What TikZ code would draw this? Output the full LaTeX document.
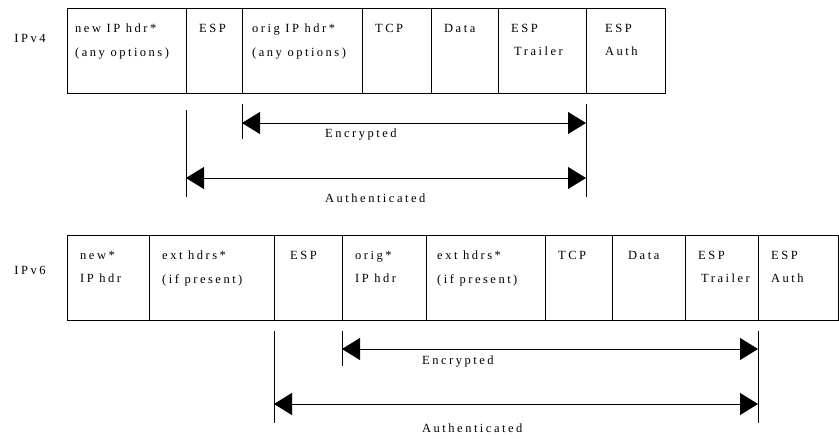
\documentclass[tikz,border=0pt]{standalone}
\usepackage{fontspec}
\setmainfont[LetterSpace=20]{Liberation Serif}
\usetikzlibrary{arrows.meta}
\usetikzlibrary{calc}

\tikzset{
  cell/.style={draw, line width=1.2pt, anchor=north west, inner sep=0pt, minimum height=85pt},
  celltext/.style={anchor=north west, align=left, inner sep=0pt, xshift=13pt, yshift=-16pt,
    font=\fontsize{12.5}{23.5}\selectfont},
  rowname/.style={font=\fontsize{12.5}{14}\selectfont, inner sep=0pt},
  spanlabel/.style={anchor=west, inner sep=0pt, font=\fontsize{12.5}{14}\selectfont},
  span/.style={{Triangle[length=18pt,width=22pt]}-{Triangle[length=18pt,width=22pt]}, line width=0.9pt},
  tick/.style={line width=0.9pt}
}

\begin{document}
\begin{tikzpicture}[x=1pt,y=-1pt]
	\useasboundingbox (0,0) rectangle (839,439);
    % IPv4
    \node[rowname] (v4) at (30,38) {IPv4};
    \node[cell, minimum width=119pt] (v4new) at (67,8) {};
    \node[cell, minimum width=56pt] (v4esp) at (186,8) {};
    \node[cell, minimum width=120pt] (v4orig) at (242,8) {};
    \node[cell, minimum width=69pt] (v4tcp) at (362,8) {};
    \node[cell, minimum width=67pt] (v4data) at (431,8) {};
    \node[cell, minimum width=88pt] (v4trl) at (498,8) {};
    \node[cell, minimum width=79pt] (v4auth) at (586,8) {};
    \node[celltext, xshift=-5pt] (v4newt) at (v4new.north west) {new IP hdr*\\(any options)};
    \node[celltext] (v4espt) at (v4esp.north west) {ESP};
    \node[celltext, xshift=-3pt] (v4origt) at (v4orig.north west) {orig IP hdr*\\(any options)};
    \node[celltext] (v4tcpt) at (v4tcp.north west) {TCP};
    \node[celltext] (v4datat) at (v4data.north west) {Data};
    \node[celltext] (v4trlt) at (v4trl.north west) {ESP\\\hspace{3pt}Trailer};
    \node[celltext, xshift=6pt] (v4autht) at (v4auth.north west) {ESP\\Auth};
    % IPv4 spans
    \coordinate (enc4) at (0,123);
    \coordinate (aut4) at (0,178);
    \draw[tick] (v4orig.south west |- 0,104) -- (v4orig.south west |- 0,139);
    \draw[tick] (v4esp.south west |- 0,110) -- (v4esp.south west |- 0,197);
    \draw[tick] (v4auth.south west |- 0,104) -- (v4auth.south west |- 0,197);
    \draw[span] (v4orig.south west |- enc4) -- (v4auth.south west |- enc4);
    \draw[span] (v4esp.south west |- aut4) -- (v4auth.south west |- aut4);
    \node[spanlabel] (v4enc) at (325,135) {Encrypted};
    \node[spanlabel] (v4aut) at (325,198) {Authenticated};
    % IPv6
    \node[rowname] (v6) at (30,270) {IPv6};
    \node[cell, minimum width=82pt] (v6new) at (67,235) {};
    \node[cell, minimum width=125pt] (v6ext) at (149,235) {};
    \node[cell, minimum width=68pt] (v6esp) at (274,235) {};
    \node[cell, minimum width=84pt] (v6orig) at (342,235) {};
    \node[cell, minimum width=119pt] (v6ext2) at (426,235) {};
    \node[cell, minimum width=67pt] (v6tcp) at (545,235) {};
    \node[cell, minimum width=73pt] (v6data) at (612,235) {};
    \node[cell, minimum width=73pt] (v6trl) at (685,235) {};
    \node[cell, minimum width=80pt] (v6auth) at (758,235) {};
    \node[celltext] (v6newt) at (v6new.north west) {new*\\IP hdr};
    \node[celltext] (v6extt) at (v6ext.north west) {ext hdrs*\\(if present)};
    \node[celltext, xshift=3pt] (v6espt) at (v6esp.north west) {ESP};
    \node[celltext] (v6origt) at (v6orig.north west) {orig*\\IP hdr};
    \node[celltext, xshift=-2pt] (v6ext2t) at (v6ext2.north west) {ext hdrs*\\(if present)};
    \node[celltext] (v6tcpt) at (v6tcp.north west) {TCP};
    \node[celltext, xshift=3pt] (v6datat) at (v6data.north west) {Data};
    \node[celltext] (v6trlt) at (v6trl.north west) {ESP\\\hspace{3pt}Trailer};
    \node[celltext] (v6autht) at (v6auth.north west) {ESP\\Auth};
    % IPv6 spans
    \coordinate (enc6) at (0,349);
    \coordinate (aut6) at (0,404);
    \draw[tick] (v6orig.south west |- 0,331) -- (v6orig.south west |- 0,366);
    \draw[tick] (v6esp.south west |- 0,331) -- (v6esp.south west |- 0,423);
    \draw[tick] (v6auth.south west |- 0,331) -- (v6auth.south west |- 0,423);
    \draw[span] (v6orig.south west |- enc6) -- (v6auth.south west |- enc6);
    \draw[span] (v6esp.south west |- aut6) -- (v6auth.south west |- aut6);
    \node[spanlabel] (v6enc) at (422,362) {Encrypted};
    \node[spanlabel] (v6aut) at (422,428) {Authenticated};
\end{tikzpicture}
\end{document}
